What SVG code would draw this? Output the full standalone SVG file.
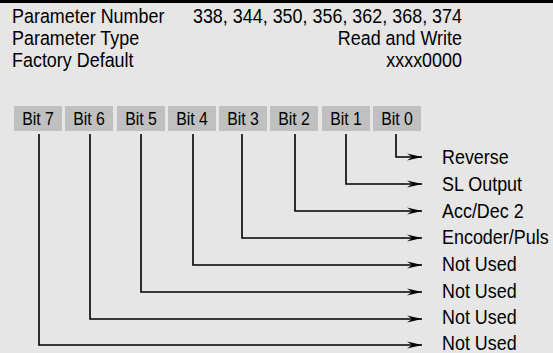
<svg xmlns="http://www.w3.org/2000/svg" width="553" height="353" viewBox="0 0 553 353">
<defs>
<style>
text{font-family:"Liberation Sans",Arial,sans-serif;fill:#000}
.h{font-size:19.5px}
.b{font-size:18px;text-anchor:middle}
.l{font-size:19.5px}
.e{text-anchor:end}
.box{fill:#c0c0c0}
.c{fill:none;stroke:#000;stroke-width:1.6}
</style>
<marker id="ah" viewBox="-16 -4 17 8" refX="0" refY="0" markerWidth="17" markerHeight="8" markerUnits="userSpaceOnUse" orient="auto">
<path d="M0,0 L-15,-3.5 L-10,0 L-15,3.5 Z" fill="#000"/>
</marker>
</defs>
<rect x="0" y="0" width="553" height="353" fill="#e6e6e6"/>
<rect x="0" y="0" width="553" height="3" fill="#000"/>
<g id="header">
<text class="h" transform="translate(12,23) scale(0.92,1)">Parameter Number</text>
<text class="h e" transform="translate(462,23) scale(0.92,1)">338, 344, 350, 356, 362, 368, 374</text>
<text class="h" transform="translate(12,45) scale(0.92,1)">Parameter Type</text>
<text class="h e" transform="translate(462,45) scale(0.92,1)">Read and Write</text>
<text class="h" transform="translate(12,67) scale(0.92,1)">Factory Default</text>
<text class="h e" transform="translate(462,67) scale(0.92,1)">xxxx0000</text>
</g>
<g id="bit7"><rect class="box" x="14" y="106" width="48" height="25"/><text class="b" transform="translate(38,125) scale(0.88,1)">Bit 7</text></g>
<g id="bit6"><rect class="box" x="65" y="106" width="48" height="25"/><text class="b" transform="translate(89,125) scale(0.88,1)">Bit 6</text></g>
<g id="bit5"><rect class="box" x="117" y="106" width="48" height="25"/><text class="b" transform="translate(141,125) scale(0.88,1)">Bit 5</text></g>
<g id="bit4"><rect class="box" x="168" y="106" width="48" height="25"/><text class="b" transform="translate(192,125) scale(0.88,1)">Bit 4</text></g>
<g id="bit3"><rect class="box" x="219" y="106" width="48" height="25"/><text class="b" transform="translate(243,125) scale(0.88,1)">Bit 3</text></g>
<g id="bit2"><rect class="box" x="270" y="106" width="48" height="25"/><text class="b" transform="translate(294,125) scale(0.88,1)">Bit 2</text></g>
<g id="bit1"><rect class="box" x="322" y="106" width="48" height="25"/><text class="b" transform="translate(346,125) scale(0.88,1)">Bit 1</text></g>
<g id="bit0"><rect class="box" x="373" y="106" width="48" height="25"/><text class="b" transform="translate(397,125) scale(0.88,1)">Bit 0</text></g>
<g id="connectors">
<polyline class="c" points="396,134 396,157 422,157" marker-end="url(#ah)"/>
<polyline class="c" points="346,134 346,184 422,184" marker-end="url(#ah)"/>
<polyline class="c" points="295,134 295,211 422,211" marker-end="url(#ah)"/>
<polyline class="c" points="242,134 242,238 422,238" marker-end="url(#ah)"/>
<polyline class="c" points="193,134 193,265 422,265" marker-end="url(#ah)"/>
<polyline class="c" points="141,134 141,292 422,292" marker-end="url(#ah)"/>
<polyline class="c" points="90,134 90,319 422,319" marker-end="url(#ah)"/>
<polyline class="c" points="39,134 39,345 422,345" marker-end="url(#ah)"/>
</g>
<g id="labels">
<text class="l" transform="translate(442,164) scale(0.92,1)">Reverse</text>
<text class="l" transform="translate(442,191) scale(0.92,1)">SL Output</text>
<text class="l" transform="translate(442,218) scale(0.92,1)">Acc/Dec 2</text>
<text class="l" transform="translate(442,244) scale(0.92,1)">Encoder/Puls</text>
<text class="l" transform="translate(442,271) scale(0.92,1)">Not Used</text>
<text class="l" transform="translate(442,298) scale(0.92,1)">Not Used</text>
<text class="l" transform="translate(442,324) scale(0.92,1)">Not Used</text>
<text class="l" transform="translate(442,350) scale(0.92,1)">Not Used</text>
</g>
</svg>
